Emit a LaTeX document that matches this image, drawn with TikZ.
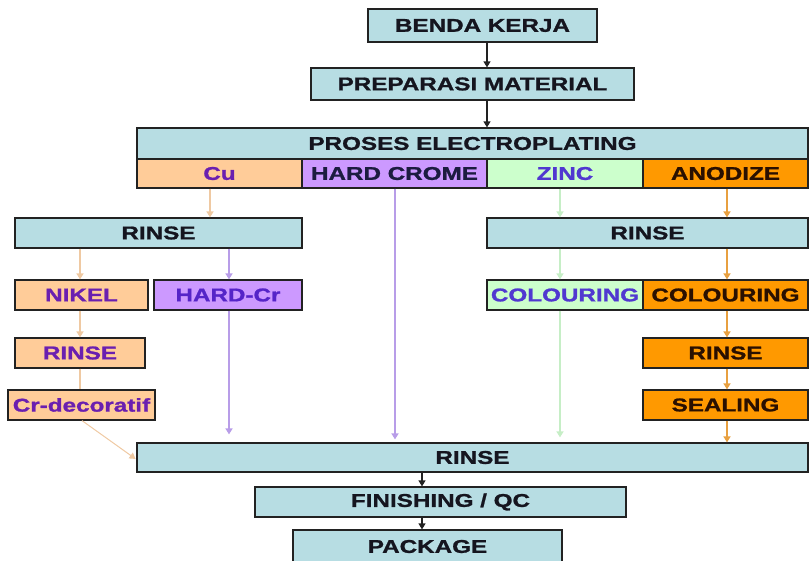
\documentclass[tikz,border=0pt]{standalone}
\usepackage{fontspec}
\newfontfamily\af{Liberation Sans}[FakeStretch=1.31,FakeBold=1.2]
\usetikzlibrary{arrows.meta}
\definecolor{rinseblue}{HTML}{B7DDE3}
\definecolor{peach}{HTML}{FFCC99}
\definecolor{lilac}{HTML}{CC99FF}
\definecolor{mint}{HTML}{CCFFCC}
\definecolor{orng}{HTML}{FF9900}
\definecolor{boxline}{HTML}{222222}
\definecolor{txtdark}{HTML}{15151F}
\definecolor{txtpurple}{HTML}{6A1FB0}
\definecolor{txtviolet}{HTML}{5524C8}
\definecolor{txtblue}{HTML}{5038D0}
\definecolor{txtbrown}{HTML}{2A1000}
\definecolor{txtnavy}{HTML}{1C1C40}
\definecolor{apeach}{HTML}{EFC9A2}
\definecolor{alilac}{HTML}{B89DE8}
\definecolor{amint}{HTML}{C6EEC6}
\definecolor{aorng}{HTML}{E8A040}
\begin{document}
\begin{tikzpicture}[x=1pt,y=-1pt,
  box/.style={draw=boxline, line width=1.2pt, inner sep=0pt, align=center,
    font=\af\bfseries\fontsize{18.5}{20}\selectfont, text=txtdark},
  rbox/.style={box, fill=rinseblue},
  pbox/.style={box, fill=peach, text=txtpurple},
  lbox/.style={box, fill=lilac, text=txtviolet},
  gbox/.style={box, fill=mint, text=txtblue},
  obox/.style={box, fill=orng, text=txtbrown},
  tip/.style={-{Triangle[width=7pt,length=6pt]}},
  karr/.style={tip, line width=1.2pt, draw=boxline},
  parr/.style={tip, line width=1.6pt, draw=apeach},
  larr/.style={tip, line width=1.6pt, draw=alilac},
  garr/.style={tip, line width=1.6pt, draw=amint},
  oarr/.style={tip, line width=1.6pt, draw=aorng}]
\useasboundingbox (0,0) rectangle (809,560);

% column coordinates
\coordinate (cTop) at (487,0);
\coordinate (cBot) at (422,0);
\coordinate (cCu) at (210,0);
\coordinate (cL) at (80,0);
\coordinate (cH) at (229,0);
\coordinate (cHC) at (395,0);
\coordinate (cZ) at (560,0);
\coordinate (cAn) at (727,0);

% nodes
\node[rbox, minimum width=229pt, minimum height=33pt] (bk) at (482.5,25.5) {BENDA KERJA};
\node[rbox, minimum width=323pt, minimum height=32pt] (pm) at (472.5,84) {PREPARASI MATERIAL};
\node[rbox, minimum width=671pt, minimum height=31pt] (pe) at (472.5,143.5) {PROSES ELECTROPLATING};
\node[pbox, minimum width=165pt, minimum height=29pt, text=txtpurple] (cu) at (219.5,173.5) {Cu};
\node[lbox, minimum width=185pt, minimum height=29pt, text=txtnavy] (hc) at (394.5,173.5) {HARD CROME};
\node[gbox, minimum width=156pt, minimum height=29pt] (zn) at (565,173.5) {ZINC};
\node[obox, minimum width=165pt, minimum height=29pt] (an) at (725.5,173.5) {ANODIZE};

\node[rbox, minimum width=287pt, minimum height=30pt] (r1) at (158.5,233) {RINSE};
\node[rbox, minimum width=321pt, minimum height=30pt] (r2) at (647.5,233) {RINSE};

\node[pbox, minimum width=133pt, minimum height=30pt] (ni) at (81.5,295) {NIKEL};
\node[lbox, minimum width=148pt, minimum height=30pt] (hr) at (228,295) {HARD-Cr};
\node[gbox, minimum width=156pt, minimum height=30pt] (co1) at (565,295) {COLOURING};
\node[obox, minimum width=165pt, minimum height=30pt] (co2) at (725.5,295) {COLOURING};

\node[pbox, minimum width=130pt, minimum height=30pt] (r3) at (80,353) {RINSE};
\node[obox, minimum width=165pt, minimum height=30pt] (r4) at (725.5,353) {RINSE};
\node[pbox, minimum width=147pt, minimum height=30pt] (cr) at (81.5,405) {Cr-decoratif};
\node[obox, minimum width=165pt, minimum height=30pt] (se) at (725.5,405) {SEALING};

\node[rbox, minimum width=671pt, minimum height=29pt] (rb) at (472.5,457.5) {RINSE};
\node[rbox, minimum width=371pt, minimum height=30pt] (fq) at (440.5,502) {FINISHING / QC};
\node[rbox, minimum width=269pt, minimum height=33pt] (pk) at (427.5,546.5) {PACKAGE};

% black connectors
\draw[karr] (bk.south -| cTop) -- (pm.north -| cTop);
\draw[karr] (pm.south -| cTop) -- (pe.north -| cTop);
\draw[karr] (rb.south -| cBot) -- (fq.north -| cBot);
\draw[karr] (fq.south -| cBot) -- (pk.north -| cBot);

% Cu branch
\draw[parr] (cu.south -| cCu) -- (r1.north -| cCu);
\draw[parr] (r1.south -| cL) -- (ni.north -| cL);
\draw[parr] (ni.south -| cL) -- (r3.north -| cL);
\draw[draw=apeach, line width=1.6pt] (r3.south -| cL) -- (cr.north -| cL);
\draw[parr, line width=1pt, shorten >=1pt] ([xshift=2pt]cr.south -| cL) -- ([yshift=-2pt]rb.west);

% hard chrome branches
\draw[larr] (r1.south -| cH) -- (hr.north -| cH);
\draw[larr, shorten >=8pt] (hr.south -| cH) -- (rb.north -| cH);
\draw[larr, shorten >=3pt] (hc.south -| cHC) -- (rb.north -| cHC);

% zinc branch
\draw[garr] (zn.south -| cZ) -- (r2.north -| cZ);
\draw[garr] (r2.south -| cZ) -- (co1.north -| cZ);
\draw[garr, shorten >=5pt] (co1.south -| cZ) -- (rb.north -| cZ);

% anodize branch
\draw[oarr] (an.south -| cAn) -- (r2.north -| cAn);
\draw[oarr] (r2.south -| cAn) -- (co2.north -| cAn);
\draw[oarr] (co2.south -| cAn) -- (r4.north -| cAn);
\draw[oarr] (r4.south -| cAn) -- (se.north -| cAn);
\draw[oarr] (se.south -| cAn) -- (rb.north -| cAn);
\end{tikzpicture}
\end{document}
